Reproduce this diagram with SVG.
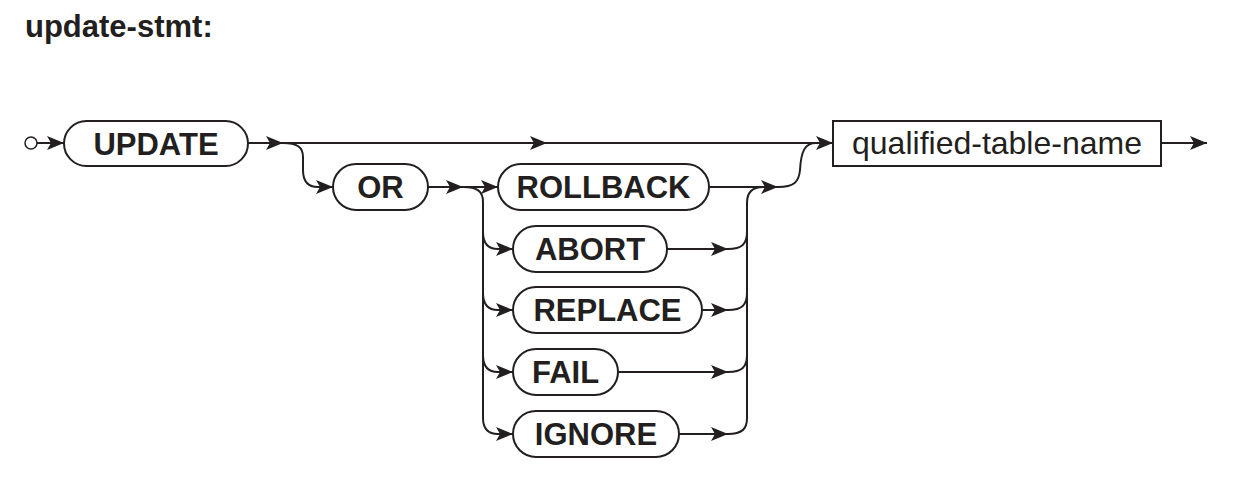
<svg xmlns="http://www.w3.org/2000/svg" width="1234" height="484" viewBox="0 0 1234 484">
<defs>
<style>
.kw{font-family:"Liberation Sans",Arial,sans-serif;font-weight:bold;font-size:31px;fill:#231f20;text-anchor:middle}
.nt{font-family:"Liberation Sans",Arial,sans-serif;font-size:32px;fill:#231f20;text-anchor:middle}
.title{font-family:"Liberation Sans",Arial,sans-serif;font-weight:bold;font-size:31px;fill:#231f20}
.box{fill:#fff;stroke:#231f20;stroke-width:2}
.ln{fill:none;stroke:#231f20;stroke-width:2}
</style>
<marker id="ah" markerUnits="userSpaceOnUse" viewBox="-18 -8 19 16" refX="0" refY="0" markerWidth="19" markerHeight="16" orient="auto">
<path d="M0,0 L-17,-7 L-13,0 L-17,7 Z" fill="#231f20"/>
</marker>
</defs>
<rect width="1234" height="484" fill="#fff"/>
<text class="title" x="25" y="37">update-stmt:</text>
<g id="connectors">
<circle cx="31" cy="143" r="6" fill="#fff" stroke="#231f20" stroke-width="1.5"/>
<path class="ln" d="M37,143 H64" marker-end="url(#ah)"/>
<path class="ln" d="M248,143 H283" marker-end="url(#ah)"/>
<path class="ln" d="M283,143 H547" marker-end="url(#ah)"/>
<path class="ln" d="M547,143 H833" marker-end="url(#ah)"/>
<path class="ln" d="M283,143 C297,143 303,147 303,157 V170 C303,182 308,187 318,187 L333,187" marker-end="url(#ah)"/>
<path class="ln" d="M428,187 H463" marker-end="url(#ah)"/>
<path class="ln" d="M463,187 H498" marker-end="url(#ah)"/>
<path class="ln" d="M463,187 C477,187 483,191 483,202 V418 C483,429 488,434 498,434 L513,434" marker-end="url(#ah)"/>
<path class="ln" d="M483,232 C483,244 488,249 498,249 L513,249" marker-end="url(#ah)"/>
<path class="ln" d="M483,293 C483,305 488,310 498,310 L513,310" marker-end="url(#ah)"/>
<path class="ln" d="M483,355 C483,367 488,372 498,372 L513,372" marker-end="url(#ah)"/>
<path class="ln" d="M709,187 H778" marker-end="url(#ah)"/>
<path class="ln" d="M667,249 H728" marker-end="url(#ah)"/>
<path class="ln" d="M702,310 H728" marker-end="url(#ah)"/>
<path class="ln" d="M618,372 H728" marker-end="url(#ah)"/>
<path class="ln" d="M679,434 H728" marker-end="url(#ah)"/>
<path class="ln" d="M728,434 C742,434 747,429 747,418 V203 C747,192 752,187 763,187"/>
<path class="ln" d="M728,249 C742,249 747,244 747,232"/>
<path class="ln" d="M728,310 C742,310 747,305 747,293"/>
<path class="ln" d="M728,372 C742,372 747,367 747,355"/>
<path class="ln" d="M778,187 C794,187 799,182 800,170 C801,151 805,143 816,143"/>
<path class="ln" d="M1161,143 H1207" marker-end="url(#ah)"/>
</g>
<g id="node-update"><rect class="box" x="64" y="121" width="184" height="45" rx="22.5"/><text class="kw" x="156" y="155">UPDATE</text></g>
<g id="node-or"><rect class="box" x="333" y="164" width="95" height="46" rx="23"/><text class="kw" x="380.5" y="198">OR</text></g>
<g id="node-rollback"><rect class="box" x="498" y="164" width="211" height="46" rx="23"/><text class="kw" x="603.5" y="198">ROLLBACK</text></g>
<g id="node-abort"><rect class="box" x="513" y="226" width="154" height="46" rx="23"/><text class="kw" x="590" y="260">ABORT</text></g>
<g id="node-replace"><rect class="box" x="513" y="287" width="189" height="46" rx="23"/><text class="kw" x="607.5" y="321">REPLACE</text></g>
<g id="node-fail"><rect class="box" x="513" y="349" width="105" height="46" rx="23"/><text class="kw" x="565.5" y="383">FAIL</text></g>
<g id="node-ignore"><rect class="box" x="513" y="411" width="166" height="46" rx="23"/><text class="kw" x="596" y="445">IGNORE</text></g>
<g id="node-qualified-table-name"><rect class="box" x="833" y="121" width="328" height="45"/><text class="nt" x="997" y="154">qualified-table-name</text></g>
</svg>
